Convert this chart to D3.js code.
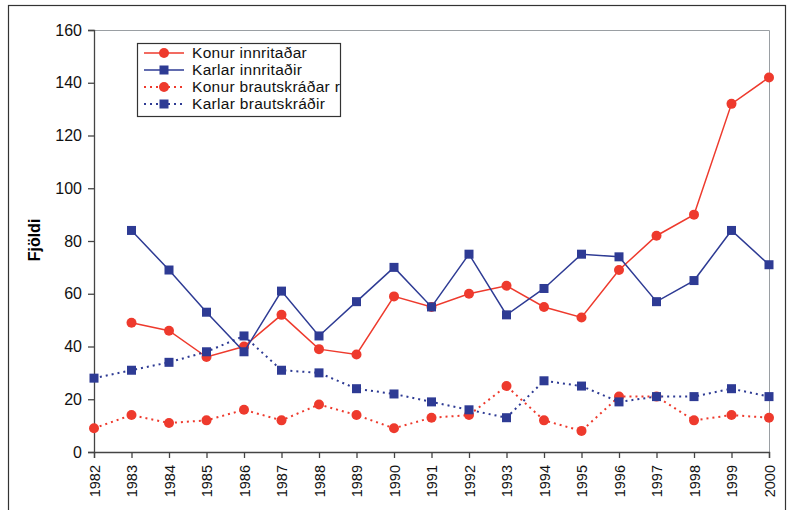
<!DOCTYPE html>
<html>
<head>
<meta charset="utf-8">
<script src="https://cdn.jsdelivr.net/npm/d3@7"></script>
<style>
  body { margin: 0; background: #fff; }
  svg { font-family: "Liberation Sans", Arial, sans-serif; }
</style>
</head>
<body>
<div id="chart"></div>
<script>
// Data
const years = d3.range(1982, 2001);
const konurInnritadar = [null, 49, 46, 36, 40, 52, 39, 37, 59, 55, 60, 63, 55, 51, 69, 82, 90, 132, 142];
const karlarInnritadir = [null, 84, 69, 53, 38, 61, 44, 57, 70, 55, 75, 52, 62, 75, 74, 57, 65, 84, 71];
const konurBrautskradar = [9, 14, 11, 12, 16, 12, 18, 14, 9, 13, 14, 25, 12, 8, 21, 21, 12, 14, 13];
const karlarBrautskradir = [28, 31, 34, 38, 44, 31, 30, 24, 22, 19, 16, 13, 27, 25, 19, 21, 21, 24, 21];
const yTicks = [0, 20, 40, 60, 80, 100, 120, 140, 160];

const red = '#ee3a2d';
const blue = '#2e3b94';

const series = [
    { name: 'Konur innritaðar', values: konurInnritadar, color: red, dash: null, marker: 'circle' },
    { name: 'Karlar innritaðir', values: karlarInnritadir, color: blue, dash: null, marker: 'square' },
    { name: 'Konur brautskráðar r', values: konurBrautskradar, color: red, dash: '2,4', marker: 'circle' },
    { name: 'Karlar brautskráðir', values: karlarBrautskradir, color: blue, dash: '2,4', marker: 'square' }
];

const width = 790, height = 510;
const margin = { top: 30, right: 21, bottom: 58, left: 94 };
const innerW = width - margin.left - margin.right;
const innerH = height - margin.top - margin.bottom;

const svg = d3.select('#chart').append('svg')
    .attr('width', width)
    .attr('height', height);

// outer frame
svg.append('rect')
    .attr('x', 8.5).attr('y', 5.5)
    .attr('width', 777).attr('height', 510)
    .attr('fill', 'none')
    .attr('stroke', '#333')
    .attr('stroke-width', 1.2);

const chart = svg.append('g')
    .attr('transform', `translate(${margin.left},${margin.top})`);

const x = d3.scalePoint().domain(years).range([0, innerW]);
const y = d3.scaleLinear().domain([0, 160]).range([innerH, 0]);

// plot area border (top/right, gray)
chart.append('path')
    .attr('d', `M0,0.5H${innerW + 0.5}V${innerH}`)
    .attr('fill', 'none')
    .attr('stroke', '#9a9fa3')
    .attr('stroke-width', 1);

// axes
const yAxis = chart.append('g')
    .call(d3.axisLeft(y).tickValues(yTicks).tickSize(6).tickPadding(6));
yAxis.selectAll('text')
    .attr('font-size', 16)
    .attr('fill', '#111');

const xAxis = chart.append('g')
    .attr('transform', `translate(0,${innerH})`)
    .call(d3.axisBottom(x).tickSize(6).tickPadding(4));
xAxis.selectAll('text')
    .attr('font-size', 14.5)
    .attr('fill', '#111')
    .attr('text-anchor', 'end')
    .attr('transform', 'rotate(-90)')
    .attr('x', -13)
    .attr('y', 0)
    .attr('dy', '0.35em');

chart.selectAll('.domain, .tick line')
    .attr('stroke', '#444')
    .attr('stroke-width', 1.3);

// y axis title
svg.append('text')
    .attr('transform', 'translate(40,240) rotate(-90)')
    .attr('text-anchor', 'middle')
    .attr('font-size', 16)
    .attr('font-weight', 'bold')
    .text('Fjöldi');

// lines
const line = d3.line()
    .defined(d => d.v !== null)
    .x(d => x(d.year))
    .y(d => y(d.v));

const drawMarker = (g, s, px, py) => {
    if (s.marker === 'circle') {
        g.append('circle')
            .attr('cx', px).attr('cy', py).attr('r', 5)
            .attr('fill', s.color);
    } else {
        g.append('rect')
            .attr('x', px - 4.5).attr('y', py - 4.5)
            .attr('width', 9).attr('height', 9)
            .attr('fill', s.color);
    }
};

series.forEach(s => {
    const pts = years.map((year, i) => ({ year, v: s.values[i] }));
    const g = chart.append('g');
    g.append('path')
        .datum(pts)
        .attr('d', line)
        .attr('fill', 'none')
        .attr('stroke', s.color)
        .attr('stroke-width', s.dash ? 2 : 1.5)
        .attr('stroke-dasharray', s.dash);
    pts.filter(d => d.v !== null).forEach(d => drawMarker(g, s, x(d.year), y(d.v)));
});

// legend
const legend = svg.append('g').attr('transform', 'translate(137,43)');
legend.append('rect')
    .attr('x', 0.5).attr('y', 0.5)
    .attr('width', 203).attr('height', 73)
    .attr('fill', '#fff')
    .attr('stroke', '#333')
    .attr('stroke-width', 1.2);

series.forEach((s, i) => {
    const ly = 10 + i * 17;
    legend.append('line')
        .attr('x1', 7).attr('x2', 47)
        .attr('y1', ly).attr('y2', ly)
        .attr('stroke', s.color)
        .attr('stroke-width', s.dash ? 2 : 1.5)
        .attr('stroke-dasharray', s.dash);
    drawMarker(legend, s, 27, ly);
    legend.append('text')
        .attr('x', 55).attr('y', ly)
        .attr('dy', '0.35em')
        .attr('font-size', 15.5)
        .attr('letter-spacing', 0.3)
        .attr('fill', '#111')
        .text(s.name);
});
</script>
</body>
</html>
